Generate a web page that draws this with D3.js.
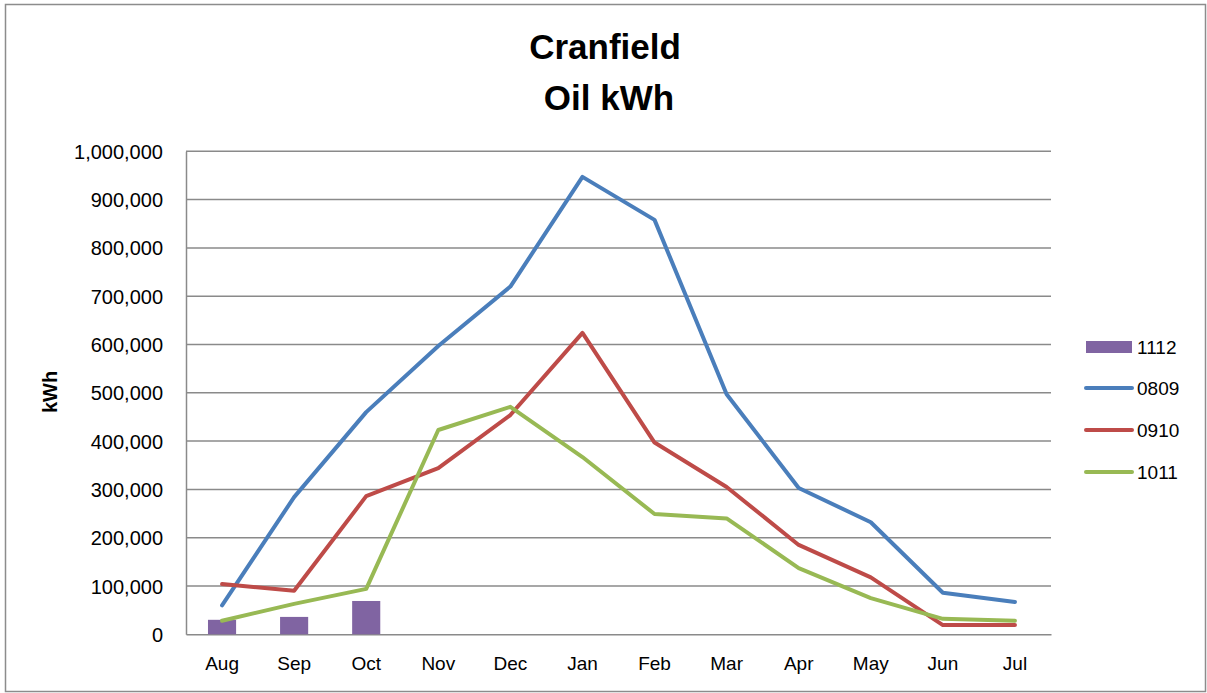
<!DOCTYPE html>
<html>
<head>
<meta charset="utf-8">
<script src="https://cdn.jsdelivr.net/npm/d3@7"></script>
<style>
  html, body { margin: 0; padding: 0; background: #fff; }
  svg { display: block; }
  text { font-family: "Liberation Sans", Arial, sans-serif; }
</style>
</head>
<body>
<svg id="chart" width="1207" height="693"></svg>
<script>
const months = ["Aug","Sep","Oct","Nov","Dec","Jan","Feb","Mar","Apr","May","Jun","Jul"];
const yTicks = [0,100000,200000,300000,400000,500000,600000,700000,800000,900000,1000000];

const bars1112 = [30000, 36000, 69000, null, null, null, null, null, null, null, null, null];
const line0809 = [60000, 284000, 460000, 597000, 720000, 947000, 858000, 497000, 303000, 232000, 86000, 67000];
const line0910 = [104000, 90000, 286000, 344000, 454000, 624000, 397000, 305000, 185000, 118000, 19000, 19000];
const line1011 = [28000, 63000, 94000, 423000, 471000, 367000, 249000, 240000, 137000, 75000, 32000, 28000];

const seriesNames = ["1112", "0809", "0910", "1011"];
const seriesColors = ["#8064A2", "#4A7EBB", "#BE4B48", "#98B954"];

const svg = d3.select("#chart");

// outer border
svg.append("rect").attr("x", 5.5).attr("y", 4.5).attr("width", 1200).attr("height", 687)
  .attr("fill", "#fff").attr("stroke", "#8c8c8c").attr("stroke-width", 1.5);

const plot = { left: 186, right: 1051, top: 151.3, bottom: 634.3 };

const x = d3.scaleBand().domain(months).range([plot.left, plot.right]);
const y = d3.scaleLinear().domain([0, 1000000]).range([plot.bottom, plot.top]);

// gridlines
svg.append("g").selectAll("line").data(yTicks.filter(d => d > 0)).join("line")
  .attr("x1", plot.left).attr("x2", plot.right)
  .attr("y1", d => y(d)).attr("y2", d => y(d))
  .attr("stroke", "#8a8a8a").attr("stroke-width", 1.5);

// y axis
const yAxis = d3.axisLeft(y).tickValues(yTicks).tickSize(0).tickPadding(23)
  .tickFormat(d3.format(","));
const gy = svg.append("g").attr("transform", `translate(${plot.left},0)`).call(yAxis);
gy.select(".domain").attr("stroke", "#8a8a8a").attr("stroke-width", 1.5);
gy.selectAll("text").attr("font-size", 20).attr("fill", "#000").attr("dy", "0.35em");

// x axis
const xAxis = d3.axisBottom(x).tickSize(0).tickPadding(22);
const gx = svg.append("g").attr("transform", `translate(0,${plot.bottom})`).call(xAxis);
gx.select(".domain").attr("stroke", "#8a8a8a").attr("stroke-width", 1.5);
gx.selectAll("text").attr("font-size", 19).attr("fill", "#000");

// bars
const barW = x.bandwidth() * 0.39;
svg.append("g").selectAll("rect").data(months.map((m, i) => ({ m, v: bars1112[i] })).filter(d => d.v != null)).join("rect")
  .attr("x", d => x(d.m) + x.bandwidth() / 2 - barW / 2)
  .attr("width", barW)
  .attr("y", d => y(d.v))
  .attr("height", d => y(0) - y(d.v))
  .attr("fill", seriesColors[0]);

// lines
const lineGen = d3.line()
  .x((d, i) => x(months[i]) + x.bandwidth() / 2)
  .y(d => y(d));
[line0809, line0910, line1011].forEach((data, k) => {
  svg.append("path").datum(data)
    .attr("d", lineGen)
    .attr("fill", "none")
    .attr("stroke", seriesColors[k + 1])
    .attr("stroke-width", 4)
    .attr("stroke-linejoin", "round")
    .attr("stroke-linecap", "round");
});

// title
svg.append("text").attr("x", 605).attr("y", 59).attr("text-anchor", "middle")
  .attr("font-size", 35).attr("font-weight", "bold").text("Cranfield");
svg.append("text").attr("x", 609).attr("y", 110).attr("text-anchor", "middle")
  .attr("font-size", 35).attr("font-weight", "bold").text("Oil kWh");

// y axis title
svg.append("text").attr("transform", "translate(57,392) rotate(-90)")
  .attr("text-anchor", "middle").attr("font-size", 20).attr("font-weight", "bold").text("kWh");

// legend
const legY = [347, 388, 430, 472];
const leg = svg.append("g");
seriesNames.forEach((name, i) => {
  if (i === 0) {
    leg.append("rect").attr("x", 1086).attr("y", legY[i] - 6).attr("width", 46).attr("height", 12)
      .attr("fill", seriesColors[i]);
  } else {
    leg.append("line").attr("x1", 1086).attr("x2", 1132).attr("y1", legY[i]).attr("y2", legY[i])
      .attr("stroke", seriesColors[i]).attr("stroke-width", 4).attr("stroke-linecap", "round");
  }
  leg.append("text").attr("x", 1137).attr("y", legY[i]).attr("dy", "0.35em")
    .attr("font-size", 19).attr("fill", "#000").text(name);
});
</script>
</body>
</html>
